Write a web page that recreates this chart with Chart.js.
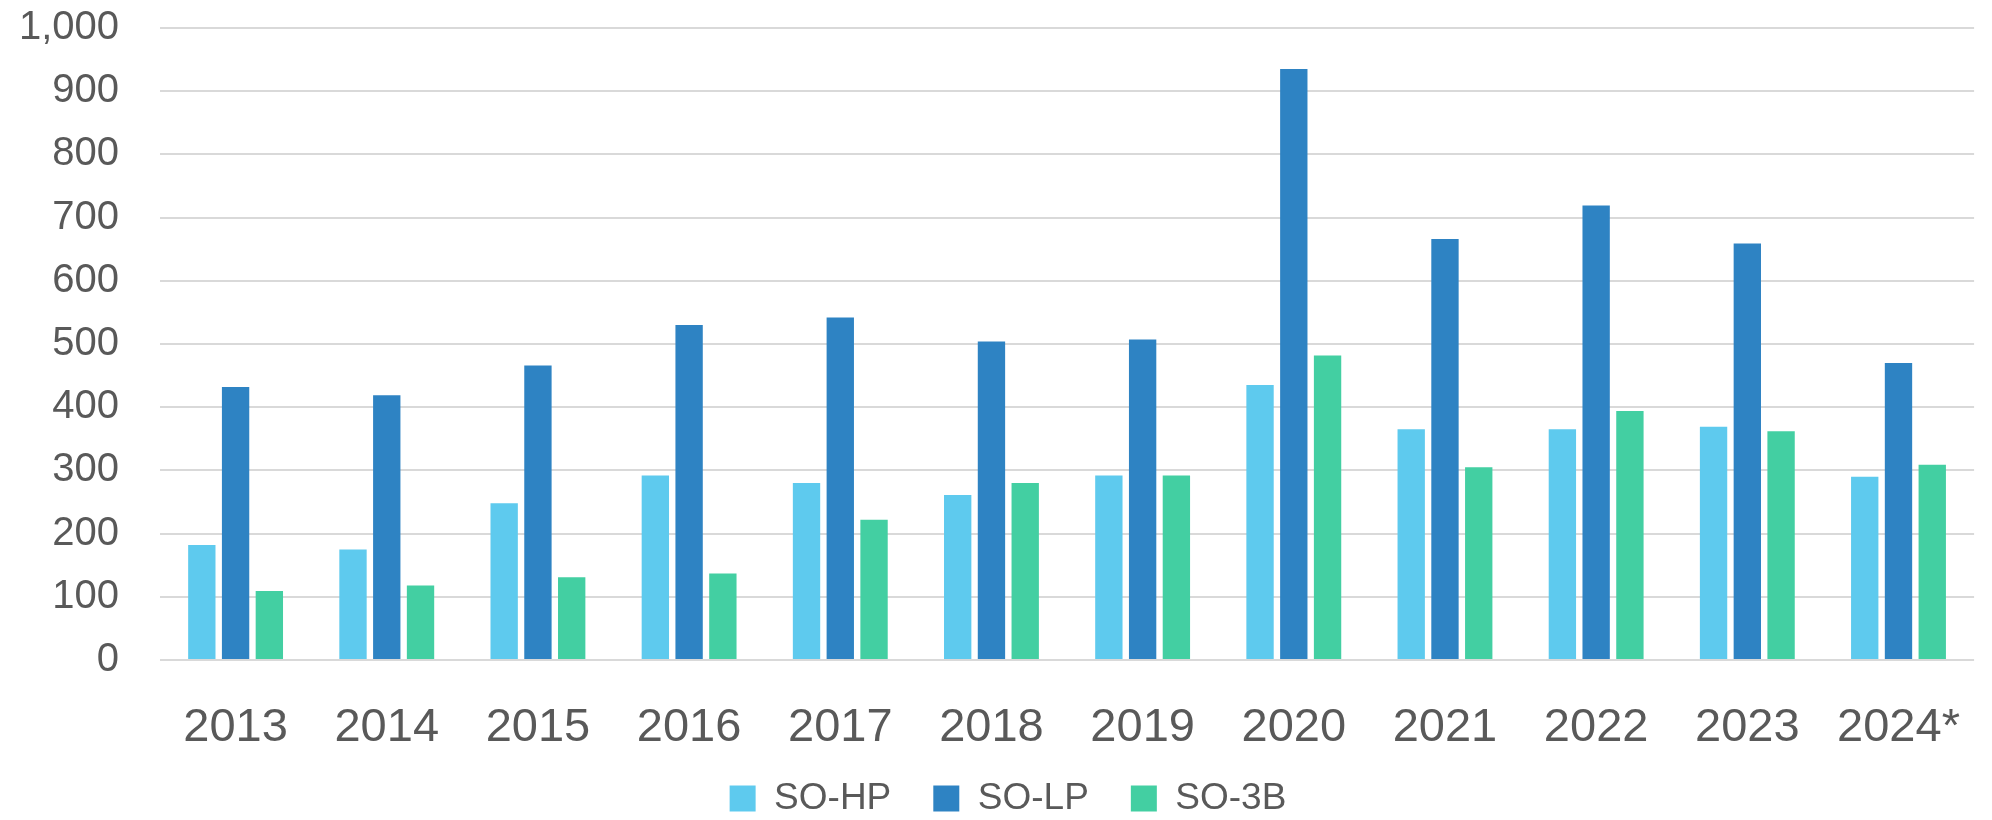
<!DOCTYPE html>
<html>
<head>
<meta charset="utf-8">
<script src="https://cdn.jsdelivr.net/npm/chart.js@4.4.1/dist/chart.umd.min.js"></script>
<style>
  html, body { margin: 0; padding: 0; background: #fff; }
  #wrap { width: 1992px; height: 820px; }
</style>
</head>
<body>
<div id="wrap"><canvas id="chart"></canvas></div>
<script>
const years = ['2013', '2014', '2015', '2016', '2017', '2018', '2019', '2020', '2021', '2022', '2023', '2024*'];
const soHP = [182, 175, 248, 292, 280, 261, 292, 435, 365, 365, 369, 290];
const soLP = [432, 419, 466, 530, 542, 504, 507, 935, 666, 719, 659, 470];
const so3B = [109, 118, 131, 137, 222, 280, 292, 482, 305, 394, 362, 309];
const seriesNames = ['SO-HP', 'SO-LP', 'SO-3B'];
const seriesColors = ['#5ECAEE', '#2E83C3', '#43CFA2'];

const TEXT = '#595959';
const GRID = '#d9d9d9';
const SANS = "'Liberation Sans', Arial, sans-serif";

// move the legend a little, the original sits slightly right and a bit higher
const legendNudge = {
  id: 'legendNudge',
  afterLayout(chart) {
    const lg = chart.legend;
    lg.left += 13; lg.right += 13;
    lg.top -= 12; lg.bottom -= 12;
  }
};

const makeSet = (label, data, color) => ({
  label: label,
  data: data,
  backgroundColor: color,
  borderWidth: 0,
  categoryPercentage: 0.67,
  barPercentage: 0.81
});

new Chart(document.getElementById('chart'), {
  type: 'bar',
  data: {
    labels: years,
    datasets: [
      makeSet(seriesNames[0], soHP, seriesColors[0]),
      makeSet(seriesNames[1], soLP, seriesColors[1]),
      makeSet(seriesNames[2], so3B, seriesColors[2])
    ]
  },
  options: {
    responsive: true,
    maintainAspectRatio: false,
    animation: false,
    layout: { padding: { top: 28, right: 2, bottom: -19, left: 0 } },
    plugins: {
      tooltip: { enabled: false },
      legend: {
        position: 'bottom',
        labels: {
          boxWidth: 26,
          boxHeight: 26,
          padding: 42,
          color: TEXT,
          font: { family: SANS, size: 37 }
        }
      }
    },
    scales: {
      x: {
        grid: { display: false },
        border: { display: false },
        ticks: {
          color: TEXT,
          padding: 32,
          maxRotation: 0,
          font: { family: SANS, size: 47 }
        },
        afterFit: s => { s.height = 90; }
      },
      y: {
        min: 0,
        max: 1000,
        border: { display: false },
        // invisible tick marks give the gap between labels and plot
        grid: { color: GRID, lineWidth: 2, drawTicks: true, tickLength: 41, tickColor: 'rgba(0,0,0,0)' },
        ticks: {
          stepSize: 100,
          padding: 0,
          color: TEXT,
          font: { family: SANS, size: 40 },
          callback: v => v.toLocaleString('en-US')
        },
        afterFit: s => { s.width = 160; }
      }
    }
  },
  plugins: [legendNudge]
});
</script>
</body>
</html>
